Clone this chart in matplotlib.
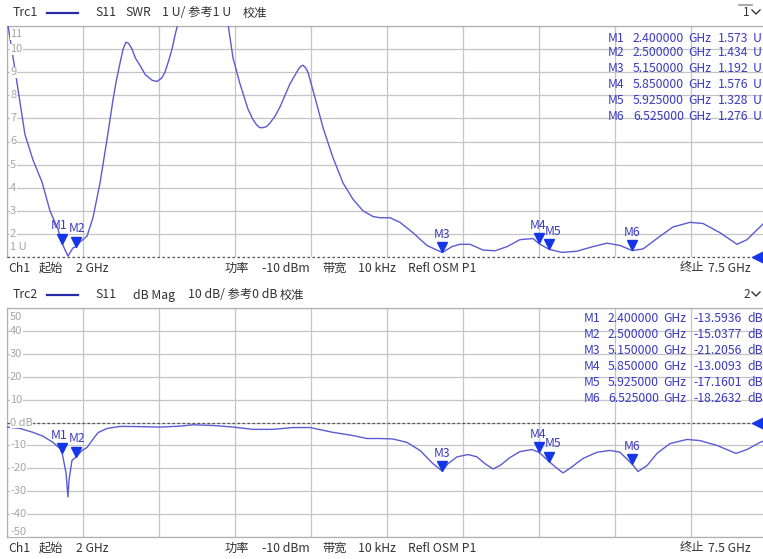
import matplotlib
matplotlib.use('Agg')
import matplotlib.pyplot as plt
from matplotlib.lines import Line2D
import matplotlib.transforms as mtransforms
import numpy as np

plt.rcParams['font.family'] = ['Noto Sans CJK SC', 'DejaVu Sans']

# Sweep settings
F_START = 2.0
F_STOP = 7.5

# Trace 1: SWR (frequency in GHz, value in U)
swr_freq = [2.000, 2.058, 2.130, 2.188, 2.253, 2.311, 2.369, 2.400, 2.441, 2.478, 2.500,
            2.528, 2.579, 2.622, 2.673, 2.724, 2.767, 2.790, 2.818, 2.840, 2.861, 2.880,
            2.905, 2.930, 2.962, 3.000, 3.050, 3.086, 3.120, 3.143, 3.170, 3.194, 3.220,
            3.237, 3.400, 3.599, 3.636, 3.686, 3.744, 3.780, 3.809, 3.830, 3.853, 3.880,
            3.903, 3.940, 3.976, 4.048, 4.106, 4.125, 4.142, 4.160, 4.178, 4.229, 4.287,
            4.359, 4.432, 4.504, 4.576, 4.649, 4.699, 4.772, 4.844, 4.938, 5.039, 5.150,
            5.220, 5.278, 5.351, 5.445, 5.532, 5.619, 5.712, 5.807, 5.850, 5.925, 6.016,
            6.125, 6.241, 6.342, 6.436, 6.525, 6.603, 6.726, 6.820, 6.943, 7.037, 7.160,
            7.283, 7.355, 7.449, 7.500]
swr_val = [11.3, 9.1, 6.3, 5.2, 4.25, 3.0, 2.2, 1.573, 1.04, 1.4, 1.434,
           1.65, 1.9, 2.7, 4.2, 6.1, 7.8, 8.6, 9.4, 10.0, 10.3, 10.25,
           10.0, 9.6, 9.3, 8.9, 8.65, 8.6, 8.75, 9.0, 9.5, 10.0, 10.7,
           11.1, 14.0, 11.1, 9.6, 8.5, 7.4, 6.95, 6.7, 6.6, 6.6, 6.65,
           6.8, 7.1, 7.5, 8.5, 9.1, 9.25, 9.3, 9.2, 9.0, 7.9, 6.6,
           5.3, 4.2, 3.5, 3.0, 2.75, 2.7, 2.7, 2.5, 2.05, 1.5, 1.192,
           1.45, 1.55, 1.55, 1.3, 1.27, 1.45, 1.75, 1.8, 1.576, 1.328, 1.2,
           1.25, 1.45, 1.6, 1.5, 1.276, 1.35, 1.9, 2.3, 2.5, 2.45, 2.05,
           1.55, 1.75, 2.3, 2.6]

# Trace 2: dB Mag
db_freq = [2.000, 2.094, 2.188, 2.261, 2.333, 2.384, 2.400, 2.427, 2.441, 2.449, 2.470,
           2.500, 2.543, 2.579, 2.615, 2.659, 2.724, 2.818, 2.962, 3.107, 3.252, 3.346,
           3.491, 3.636, 3.780, 3.925, 4.070, 4.193, 4.359, 4.504, 4.605, 4.699, 4.793,
           4.895, 4.989, 5.083, 5.150, 5.191, 5.257, 5.336, 5.401, 5.459, 5.517, 5.568,
           5.640, 5.712, 5.799, 5.850, 5.925, 5.980, 6.024, 6.074, 6.168, 6.270, 6.364,
           6.436, 6.525, 6.566, 6.632, 6.704, 6.798, 6.921, 7.015, 7.138, 7.275, 7.355,
           7.449, 7.500]
db_val = [-2.0, -2.6, -4.3, -6.0, -8.7, -11.4, -13.59, -22.0, -32.5, -25.0, -16.6,
          -15.04, -12.2, -10.9, -7.9, -4.4, -2.6, -1.7, -1.8, -2.0, -1.6, -1.0,
          -1.3, -2.0, -3.0, -3.0, -2.2, -2.2, -4.3, -5.7, -7.0, -7.0, -7.2,
          -8.7, -12.2, -18.0, -21.21, -18.0, -15.0, -14.0, -15.0, -18.0, -20.3, -18.8,
          -15.3, -12.7, -11.8, -13.01, -17.16, -20.0, -22.0, -20.0, -15.7, -13.0, -12.2,
          -13.0, -18.26, -21.4, -18.8, -13.5, -9.2, -7.4, -7.9, -10.0, -13.5, -11.8,
          -8.7, -7.5]

# Markers
marker_names = ['M1', 'M2', 'M3', 'M4', 'M5', 'M6']
marker_freq = [2.400000, 2.500000, 5.150000, 5.850000, 5.925000, 6.525000]
marker_swr = [1.573, 1.434, 1.192, 1.576, 1.328, 1.276]
marker_db = [-13.5936, -15.0377, -21.2056, -13.0093, -17.1601, -18.2632]

W, H = 763, 559
TRACE = '#5b5bd2'
MARK = '#1436e8'
MTEXT = '#3a3ac4'
GRID = '#c4c4c4'
TEXT = '#333333'
TICK = '#a6a6a6'
FS = 8.8

fig = plt.figure(figsize=(W / 100, H / 100), dpi=100, facecolor='white')


def px(x, y):
    return x / W, 1 - y / H


def fig_text(x, y, s, **kw):
    fx, fy = px(x, y)
    kw.setdefault('color', TEXT)
    kw.setdefault('fontsize', FS)
    fig.text(fx, fy, s, va='center', **kw)


def make_panel(top, bottom, ylo, yhi, step):
    ax = fig.add_axes([7 / W, 1 - bottom / H, 760 / W, (bottom - top) / H])
    ax.set_xlim(F_START, F_STOP)
    ax.set_ylim(ylo, yhi)
    ax.set_xticks(np.linspace(F_START, F_STOP, 11))
    ax.set_yticks(np.arange(ylo, yhi + step / 2, step))
    ax.grid(True, color=GRID, lw=0.9)
    ax.tick_params(length=0, labelbottom=False, labelleft=False)
    for sp in ax.spines.values():
        sp.set_color('#b0b0b0')
        sp.set_linewidth(0.9)
    return ax


def draw_markers(ax, vals):
    ms = 7.5
    trans = mtransforms.offset_copy(ax.transData, fig=fig, x=0, y=ms / 2, units='points')
    for name, f, v in zip(marker_names, marker_freq, vals):
        ax.plot([f], [v], marker='v', ms=ms, color=MARK, mec=MARK, ls='none',
                transform=trans, zorder=5)
        dx = {'M1': -2, 'M2': 1, 'M4': -1, 'M5': 3}.get(name, 0)
        ax.annotate(name, (f, v), xytext=(dx, 13), textcoords='offset points',
                    ha='center', va='center', color=MTEXT, fontsize=8.8, zorder=6)


def ylabel(ax, y, s):
    ax.text(0.004, y, s, transform=ax.get_yaxis_transform(), ha='left', va='center',
            fontsize=8, color=TICK, zorder=4,
            bbox=dict(facecolor='white', edgecolor='none', pad=0.3))


# ---- Panel 1: SWR ----
ax1 = make_panel(26, 257, 1, 11, 1)
ax1.spines['bottom'].set_visible(False)
ax1.axhline(1, color='#555555', lw=0.9, ls=(0, (2, 2)), clip_on=False, zorder=3)
ax1.plot(swr_freq, swr_val, color=TRACE, lw=1.0, zorder=3)
draw_markers(ax1, marker_swr)
ylabel(ax1, 10.65, '11')
for v in range(2, 11):
    ylabel(ax1, v, str(v))
ylabel(ax1, 1.43, '1 U')
ax1.plot([7.437], [1], marker='<', ms=8, color=MARK, clip_on=False, zorder=6)

# ---- Panel 2: dB Mag ----
ax2 = make_panel(308, 537, -50, 50, 10)
ax2.axhline(0, color='#555555', lw=0.9, ls=(0, (2, 2)), zorder=3)
ax2.plot(db_freq, db_val, color=TRACE, lw=1.0, zorder=3)
draw_markers(ax2, marker_db)
ylabel(ax2, 46, '50')
for v in range(-40, 50, 10):
    ylabel(ax2, v, '0 dB' if v == 0 else str(v))
ylabel(ax2, -47.8, '-50')
ax2.plot([7.437], [0], marker='<', ms=8, color=MARK, clip_on=False, zorder=6)

# ---- Marker tables ----
row_y1 = [38, 53, 69, 85, 101, 117]
for (name, f, v, y) in zip(marker_names, marker_freq, marker_swr, row_y1):
    fig_text(608, y, name, color=MTEXT)
    fig_text(633, y, f'{f:.6f}', color=MTEXT)
    fig_text(688, y, 'GHz', color=MTEXT)
    fig_text(718, y, f'{v:.3f}', color=MTEXT)
    fig_text(753, y, 'U', color=MTEXT)

row_y2 = [318, 334, 350, 366, 382, 398]
for (name, f, v, y) in zip(marker_names, marker_freq, marker_db, row_y2):
    fig_text(584, y, name, color=MTEXT)
    fig_text(608, y, f'{f:.6f}', color=MTEXT)
    fig_text(663, y, 'GHz', color=MTEXT)
    fig_text(693, y, f'{v:.4f}', color=MTEXT)
    fig_text(747, y, 'dB', color=MTEXT)

# ---- Headers ----
headers = [
    (13, 'Trc1', [(95, 'S11'), (125, 'SWR'), (162, '1 U/ 参考1 U'), (243, '校准')]),
    (295, 'Trc2', [(95, 'S11'), (133, 'dB Mag'), (188, '10 dB/ 参考0 dB'), (280, '校准')]),
]
for y0, trc, parts in headers:
    fig_text(13, y0, trc)
    x0, yy = px(47, y0)
    x1, _ = px(78, y0)
    fig.add_artist(Line2D([x0, x1], [yy, yy], color='#2a2aa8', lw=1.6))
    for x, s in parts:
        fig_text(x, y0, s)

# channel selector at the right
for y0, num in [(12, '1'), (294, '2')]:
    fig_text(743, y0, num, fontsize=8.5)
    a, b = px(752, y0 - 2)
    c, d = px(756, y0 + 2)
    e, g = px(760, y0 - 2)
    fig.add_artist(Line2D([a, c, e], [b, d, g], color=TEXT, lw=1.0))
xa, ya = px(739, 5)
xb, _ = px(752, 5)
fig.add_artist(Line2D([xa, xb], [ya, ya], color='#999999', lw=1.2))

# ---- Footers ----
for y0 in [268, 548]:
    fig_text(8, y0, 'Ch1')
    fig_text(39, y0, '起始')
    fig_text(76, y0, '2 GHz')
    fig_text(225, y0, '功率')
    fig_text(262, y0, '-10 dBm')
    fig_text(322, y0, '带宽')
    fig_text(358, y0, '10 kHz')
    fig_text(408, y0, 'Refl OSM P1')
    fig_text(680, y0, '终止')
    fig_text(708, y0, '7.5 GHz')

fig.savefig('out.png', dpi=100, facecolor='white')
